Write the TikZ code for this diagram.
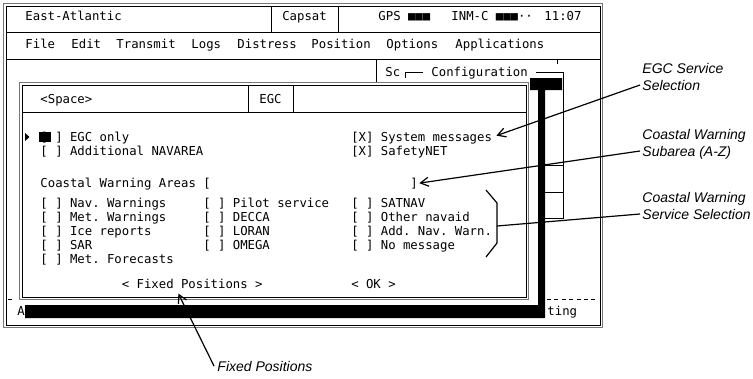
\documentclass[tikz,border=0pt]{standalone}
\usepackage{fontspec}
\setsansfont{Liberation Sans}
\newfontfamily\termfont{DejaVu Sans Mono}
\usetikzlibrary{arrows.meta}
\definecolor{rim}{RGB}{120,120,120}

\begin{document}
\begin{tikzpicture}[x=1pt,y=-1pt,line width=0.9pt,
    term/.style={font=\termfont\fontsize{12.3}{14}\selectfont\frenchspacing,anchor=base west,inner sep=0pt},
    callout/.style={font=\sffamily\itshape\fontsize{14}{17}\selectfont,align=left,inner sep=0pt},
    lead/.style={line width=1.2pt},
    leadarrow/.style={lead,-{Straight Barb[length=8pt,width=9pt]}}]
  \useasboundingbox (0,0) rectangle (753,378);

  % terminal window, title bar and menu bar
  \draw[rim,line width=1.5pt] (3.5,3.5) rectangle (602.5,327.5);
  \draw (6,6) rectangle (600,325);
  \draw (6,32) -- (600,32) (271,6) -- (271,32) (338,6) -- (338,32)
        (6,59) -- (600,59) (557,59) -- (557,64);
  \node[term] (site) at (25,20) {East-Atlantic};
  \node[term,anchor=base] (capsat) at (304.5,20) {Capsat};
  \node[term] (gps) at (378,20) {GPS ■■■};
  \node[term] (inmc) at (451,20) {INM-C ■■■··};
  \node[term] (clock) at (544,20) {11:07};
  \foreach \entry/\x in {File/25,Edit/71,Transmit/116,Logs/191,Distress/237,Position/311,Options/386,Applications/455}
    \node[term] (menu\x) at (\x,48.5) {\entry};

  % options drop-down and configuration sub menu
  \draw (376,59) -- (376,83);
  \node[term] (sc) at (385,76) {Sc};
  \draw (405,78) -- (405,72) -- (423,72);
  \node[term] (config) at (431,76) {Configuration};
  \draw (536,72) -- (563,72) -- (563,218) -- (545,218) (545,165) -- (563,165) (545,192) -- (563,192);

  % status line
  \draw[dash pattern=on 4pt off 3.4pt] (8,299) -- (15,299) (547,299) -- (598,299);
  \node[term] (statA) at (17,315) {A};
  \node[term] (statB) at (547,315) {ting};

  % dialog shadow
  \fill (530,78) rectangle (562,90) (538,90) rectangle (545,318) (25,305) rectangle (545,318);

  % EGC dialog
  \draw[rim,line width=1.5pt,fill=white] (19.5,82.5) rectangle (528.5,299.5);
  \draw (22,85) rectangle (526,297);
  \draw (22,112) -- (526,112) (248,85) -- (248,112) (293,85) -- (293,112);
  \node[term] (space) at (40,103) {<Space>};
  \node[term,anchor=base] (egc) at (270.5,103) {EGC};

  \fill (39,132) rectangle (51,142);
  \fill (25,133) -- (29.5,137) -- (25,141) -- cycle;
  \foreach \entry/\col/\row [count=\i] in {{[ ] EGC only}/0/141,{[ ] Additional NAVAREA}/0/155,
      {[X] SafetyNET}/42/155,{Coastal Warning Areas [}/0/187,
      {[ ] Nav. Warnings}/0/207,{[ ] Met. Warnings}/0/221,{[ ] Ice reports}/0/235,
      {[ ] SAR}/0/249,{[ ] Met. Forecasts}/0/263,
      {[ ] Pilot service}/22/207,{[ ] DECCA}/22/221,{[ ] LORAN}/22/235,{[ ] OMEGA}/22/249,
      {[ ] SATNAV}/42/207,{[ ] Other navaid}/42/221,{[ ] Add. Nav. Warn.}/42/235,{[ ] No message}/42/249}
    \node[term] (opt\i) at (40+7.4*\col,\row) {\entry};
  \node[term] (sysmsg) at (350.8,141) {[X] System messages};
  \node[term] (areaend) at (410,187) {]};
  \node[term] (fixpos) at (121.4,288) {< Fixed Positions >};
  \node[term] (okbtn) at (350.8,288) {< OK >};

  % service brace
  \draw[lead] (486,190) -- (497,203) -- (497,243) -- (486,257);
  \coordinate (bracetip) at (497,226);

  % callouts
  \node[callout,anchor=north west] (egcsel) at (642,63) {EGC Service\\Selection};
  \node[callout,anchor=north west] (subarea) at (642,129) {Coastal Warning\\Subarea (A-Z)};
  \node[callout,anchor=north west] (svcsel) at (642,192) {Coastal Warning\\Service Selection};
  \node[callout,anchor=west] (fixlbl) at (217,366) {Fixed Positions};

  \draw[leadarrow] ([xshift=-2pt,yshift=-22pt]egcsel.north west) -- ([xshift=4pt,yshift=2pt]sysmsg.east);
  \draw[leadarrow] ([xshift=-2pt,yshift=-22pt]subarea.north west) -- ([xshift=1pt]areaend.east);
  \draw[lead] ([xshift=-2pt,yshift=-22pt]svcsel.north west) -- (bracetip);
  \draw[leadarrow] ([xshift=-3pt]fixlbl.west) -- ([xshift=57pt,yshift=-5pt]fixpos.south west);
\end{tikzpicture}
\end{document}
